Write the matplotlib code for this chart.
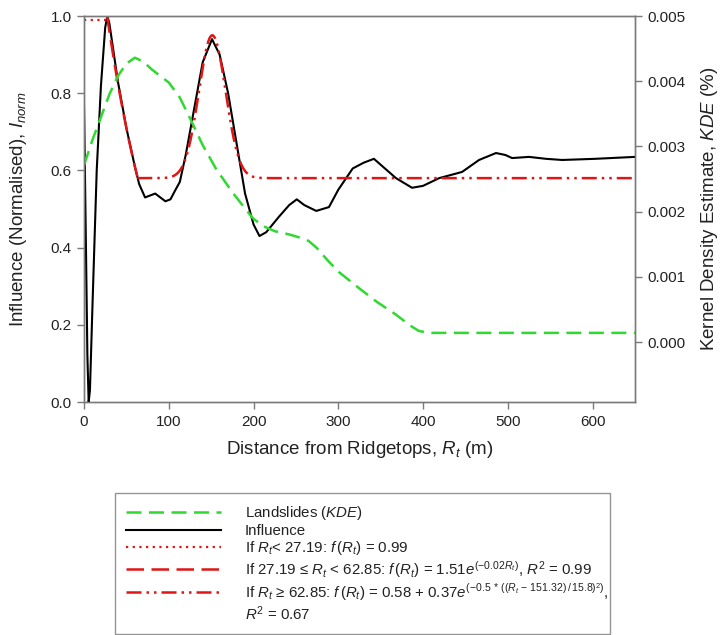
import numpy as np
import matplotlib
matplotlib.use("Agg")
import matplotlib.pyplot as plt
from matplotlib.lines import Line2D

plt.rcParams['font.family'] = ['Liberation Sans', 'DejaVu Sans']
plt.rcParams['mathtext.fontset'] = 'custom'
plt.rcParams['mathtext.rm'] = 'Liberation Sans'
plt.rcParams['mathtext.it'] = 'Liberation Sans:italic'
plt.rcParams['mathtext.bf'] = 'Liberation Sans:bold'

# Landslide kernel density estimate vs distance from ridgetops
kde_dist = [0, 10, 20, 30, 40, 50, 60, 70, 80, 90, 100, 113, 127, 140, 156, 176,
            199, 211, 225, 242, 255, 265, 274, 289, 301, 325, 345, 368, 385, 395,
            407, 450, 650]
kde_vals = [0.00271, 0.00310, 0.00345, 0.00380, 0.00408, 0.00427, 0.00436,
            0.00430, 0.00418, 0.00408, 0.00398, 0.00375, 0.00338, 0.00302,
            0.00265, 0.00228, 0.00190, 0.00178, 0.00170, 0.00165, 0.00160,
            0.00155, 0.00145, 0.00123, 0.00107, 0.00082, 0.00062, 0.00042,
            0.00025, 0.00017, 0.00014, 0.00014, 0.00014]

# Normalised influence
inf_dist = [0, 2, 4, 5.5, 7, 10, 15, 20, 25, 27.5, 30, 40, 50, 60, 65, 72, 78,
            84, 90, 96, 102, 108, 113, 120, 130, 140, 151, 160, 170, 180, 190,
            200, 207, 215, 230, 242, 251, 260, 274, 289, 300, 317, 330, 342,
            355, 368, 387, 400, 419, 446, 466, 486, 497, 505, 525, 545, 564,
            603, 650]
inf_vals = [0.77, 0.45, 0.12, 0.0, 0.03, 0.25, 0.60, 0.82, 0.97, 1.0, 0.98,
            0.83, 0.71, 0.61, 0.565, 0.53, 0.535, 0.54, 0.53, 0.52, 0.525,
            0.55, 0.57, 0.64, 0.76, 0.88, 0.94, 0.90, 0.80, 0.67, 0.54, 0.46,
            0.43, 0.44, 0.48, 0.51, 0.525, 0.51, 0.495, 0.505, 0.55, 0.605,
            0.62, 0.63, 0.605, 0.58, 0.555, 0.56, 0.58, 0.596, 0.627, 0.645,
            0.64, 0.632, 0.635, 0.63, 0.627, 0.63, 0.635]

# Piecewise fit parameters (legend shows the exponent rate rounded)
split_1 = 27.19
split_2 = 62.85
const_level = 0.99
exp_a, exp_b = 1.51, -0.0151
gauss_base, gauss_amp, gauss_mu, gauss_sigma = 0.58, 0.37, 151.32, 15.8

x_ticks = [0, 100, 200, 300, 400, 500, 600]
left_ticks = [0.0, 0.2, 0.4, 0.6, 0.8, 1.0]
right_ticks = [0.000, 0.001, 0.002, 0.003, 0.004, 0.005]

green = '#2fd92f'
red = '#e01515'
spine_col = '#7a7a7a'
text_col = '#222222'

fig = plt.figure(figsize=(7.2, 6.35), dpi=100)
ax = fig.add_axes([84 / 720, 1 - 402 / 635, (635 - 84) / 720, (402 - 16) / 635])
ax2 = ax.twinx()

r1 = np.linspace(0, split_1, 30)
r2 = np.linspace(split_1, split_2, 60)
r3 = np.linspace(split_2, 650, 800)
f1 = np.full_like(r1, const_level)
f2 = exp_a * np.exp(exp_b * r2)
f3 = gauss_base + gauss_amp * np.exp(-0.5 * ((r3 - gauss_mu) / gauss_sigma) ** 2)

l_inf, = ax.plot(inf_dist, inf_vals, color='black', lw=1.5, zorder=3)
l_f1, = ax.plot(r1, f1, color=red, lw=1.6, linestyle=(0, (1, 2)), zorder=4)
l_f2, = ax.plot(r2, f2, color=red, lw=1.8, linestyle=(0, (7, 3)), zorder=4)
l_f3, = ax.plot(r3, f3, color=red, lw=1.8, linestyle=(0, (6, 2, 1, 2, 1, 2)), zorder=4)
l_kde, = ax2.plot(kde_dist, kde_vals, color=green, lw=1.8, linestyle=(0, (6, 3)))

ax.set_xlim(0, 650)
ax.set_ylim(0, 1.0)
ax2.set_ylim(-0.00092, 0.005)
ax.set_xticks(x_ticks)
ax.set_yticks(left_ticks)
ax.set_yticklabels([f"{v:.1f}" for v in left_ticks])
ax2.set_yticks(right_ticks)
ax2.set_yticklabels([f"{v:.3f}" for v in right_ticks])

for a in (ax, ax2):
    for s in a.spines.values():
        s.set_color(spine_col)
        s.set_linewidth(1.0)
    a.tick_params(direction='out', length=5, width=1, color=spine_col,
                  labelsize=11, labelcolor=text_col, pad=4)

ax.set_xlabel("Distance from Ridgetops, $R_t$ (m)", fontsize=13.5, color=text_col)
ax.set_ylabel("Influence (Normalised), $I_{norm}$", fontsize=13.5, color=text_col)
ax2.set_ylabel("Kernel Density Estimate, $KDE$ (%)", fontsize=13.5, color=text_col)
ax.xaxis.set_label_coords(0.5, -0.097)
ax.yaxis.set_label_coords(-0.100, 0.5)
ax2.yaxis.set_label_coords(1.117, 0.5)

blank = Line2D([], [], linestyle='none')
handles = [l_kde, l_inf, l_f1, l_f2, l_f3, blank]
labels = [
    "Landslides ($KDE$)",
    "Influence",
    "If $R_t$< 27.19: $f\\,(R_t)$ = 0.99",
    "If 27.19 \u2264 $R_t$ < 62.85: $f\\,(R_t)$ = 1.51$e^{(-0.02R_t)}$, $R^2$ = 0.99",
    "If $R_t$ \u2265 62.85: $f\\,(R_t)$ = 0.58 + 0.37$e^{(-0.5\\,*\\,((R_t\\,-\\,151.32)\\,/\\,15.8)^2)}$,",
    "$R^2$ = 0.67",
]
leg = fig.legend(handles, labels, loc='upper left',
                 bbox_to_anchor=(115 / 720, 0.003, (610 - 115) / 720, 1 - 493 / 635 - 0.003),
                 mode='expand', borderaxespad=0, fontsize=10.8, handlelength=6.3,
                 handletextpad=1.6, borderpad=0.75, labelspacing=0.1,
                 fancybox=False, frameon=True)
leg.get_frame().set_edgecolor(spine_col)
leg.get_frame().set_linewidth(1.0)
for t in leg.get_texts():
    t.set_color(text_col)

fig.savefig("out.png", dpi=100)
